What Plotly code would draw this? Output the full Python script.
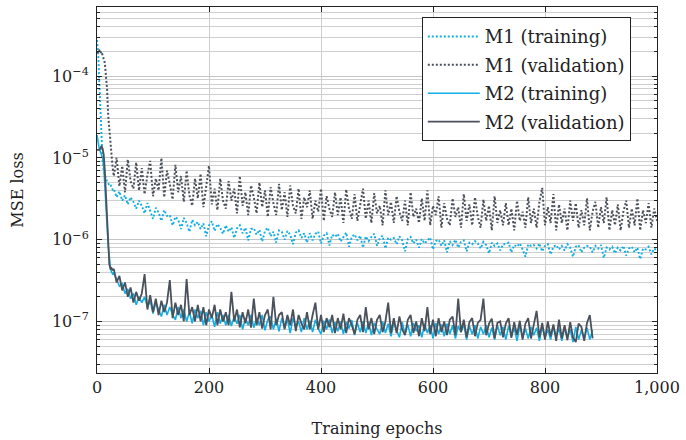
import plotly.graph_objects as go

SCALE = 1e-8  # all loss values below are written in units of 1e-8

# ---------------- M1 ----------------
m1_epochs = [0, 2, 4, 6, 8, 10, 12, 14, 16, 18, 20, 22, 24, 26, 28] + list(range(30, 1001, 5))

m1_train = [
    27500, 20000, 9000, 3500, 1300, 900, 700, 600, 560, 520, 490, 460, 470, 430, 410,
    420, 330, 390, 300, 350, 270, 330, 290, 240, 300,
    260, 210, 280, 230, 180, 245, 215, 170, 230, 195,
    200, 150, 190, 175, 135, 185, 160, 125, 175, 150,
    165, 135, 158, 110, 150, 168, 128, 155, 140, 118,
    150, 125, 142, 105, 138, 150, 120, 140, 98, 135,
    138, 115, 132, 95, 128, 140, 110, 125, 92, 130,
    125, 100, 128, 115, 88, 122, 130, 105, 120, 92,
    120, 98, 118, 126, 90, 112, 120, 85, 115, 108,
    118, 95, 110, 122, 82, 108, 116, 98, 112, 80,
    110, 96, 108, 118, 84, 104, 112, 78, 106, 100,
    105, 88, 110, 98, 72, 102, 108, 90, 100, 80,
    102, 90, 98, 106, 76, 96, 100, 84, 98, 70,
    96, 86, 100, 80, 94, 98, 72, 92, 88, 96,
    90, 78, 94, 86, 68, 92, 84, 90, 74, 88,
    88, 92, 70, 86, 82, 90, 76, 62, 88, 84,
    86, 78, 90, 72, 84, 88, 66, 82, 86, 76,
    84, 74, 88, 80, 62, 82, 86, 70, 80, 84,
    82, 70, 84, 78, 86, 60, 80, 76, 82, 68,
    80, 74, 84, 64, 78, 82, 70, 80, 58, 78,
    76, 82, 66, 78, 74,
]

m1_val = [
    19000, 20000, 21000, 19000, 20000, 18000, 16000, 14500, 10000, 7000, 3300, 2200, 1400, 1000, 750,
    600, 1000, 450, 800, 380, 950, 520, 420, 880, 400,
    750, 360, 620, 920, 340, 560, 400, 1000, 330, 700,
    480, 310, 820, 380, 600, 290, 700, 350, 260, 560,
    320, 640, 250, 480, 800, 270, 420, 230, 560, 300,
    240, 520, 300, 420, 210, 600, 260, 380, 200, 460,
    330, 210, 500, 250, 400, 190, 440, 280, 200, 480,
    230, 380, 190, 460, 260, 210, 420, 180, 330, 250,
    400, 180, 300, 220, 420, 170, 340, 240, 190, 380,
    200, 330, 160, 410, 240, 180, 360, 170, 280, 420,
    180, 300, 160, 370, 210, 260, 150, 400, 200, 290,
    160, 340, 220, 170, 300, 150, 380, 190, 240, 160,
    320, 170, 400, 150, 260, 200, 340, 140, 280, 180,
    150, 320, 190, 250, 140, 360, 170, 270, 150, 330,
    190, 140, 310, 170, 260, 130, 340, 160, 230, 150,
    280, 150, 240, 130, 300, 170, 220, 140, 330, 160,
    240, 140, 290, 430, 150, 250, 160, 360, 130, 270,
    160, 240, 130, 300, 170, 280, 140, 230, 150, 320,
    130, 220, 290, 140, 250, 160, 330, 130, 230, 150,
    270, 130, 220, 300, 140, 240, 150, 320, 130, 230,
    160, 280, 140, 240, 170,
]

# ---------------- M2 ----------------
m2_epochs = [0, 2, 4, 6, 8, 10, 12, 14, 16, 18, 20, 22, 24, 26, 28] + list(range(30, 886, 5))

m2_train = [
    1900, 1500, 1300, 1200, 1100, 1000, 800, 500, 300, 150, 85, 55, 45, 40, 38,
    40, 33, 27, 29, 22, 25, 19, 22, 16, 20,
    17, 20, 15, 18, 12.5, 17, 14, 11.5, 16, 12,
    15, 12, 10.5, 15, 11, 14, 10, 13, 9.5, 14,
    11, 13.5, 9, 13, 10, 12, 8.6, 13, 9.4, 12,
    9, 12, 8.8, 11.5, 9.4, 12, 8, 11, 9, 12,
    8.4, 11, 9, 12, 7.8, 10.5, 11.5, 8, 10.8, 7.6,
    11, 8.4, 10.6, 7.2, 11, 8.6, 10, 7.4, 11, 8,
    10.2, 7.4, 10.5, 8.2, 7, 10.2, 8, 10.6, 7.2, 9.8,
    7.6, 10, 7, 9.8, 8.2, 10.4, 6.8, 9.6, 7.4, 10,
    7.2, 9.8, 6.8, 9.6, 8, 7, 10, 7.2, 9.4, 6.6,
    9.6, 7.8, 6.4, 9.8, 7, 9.2, 6.6, 9.6, 7.6, 9,
    6.4, 9.4, 7.2, 9, 6.2, 9.6, 7, 9.2, 6.6, 9.4,
    7, 9, 6.2, 8.8, 7.4, 9.2, 6, 8.8, 7, 9,
    6.2, 8.6, 7, 9, 6.4, 8.4, 6, 9, 6.8, 8.6,
    6, 8.8, 6.6, 8.4, 5.8, 8.8, 6.4, 8.2, 6.2, 8.6,
    6.8, 8.4, 5.8, 8.6, 6.4, 8, 6, 8.6, 6.6, 8.2,
    5.8, 8.4, 6.4, 8, 5.6, 8.6, 6, 7.8, 6.2, 8.4,
    6, 7.8,
]

m2_val = [
    1250, 1250, 1250, 1300, 1400, 1300, 1100, 700, 350, 170, 80, 50, 44, 45, 42,
    44, 30, 36, 24, 30, 20, 26, 17, 23, 18,
    22, 38, 14, 21, 13, 19, 12, 18, 13, 17,
    32, 11, 17, 12, 16, 10, 33, 12, 15, 10,
    16, 10, 15, 9, 14, 11, 16, 9, 14, 10,
    13, 9, 23, 10, 14, 8.5, 13, 9.5, 14, 8.4,
    19, 9, 13, 8.2, 12, 14, 8, 20, 9, 12,
    13, 8, 12, 9, 14, 7.6, 12, 9.5, 8, 13,
    8, 12, 17, 8, 12, 7.4, 11, 8.5, 12, 7.2,
    11, 8, 12.5, 7.2, 11, 9, 7, 10.5, 12, 7.4,
    15, 8, 11, 7, 10.5, 12, 7.4, 10, 17, 7.2,
    11, 7.2, 11.5, 8, 6.8, 10.5, 12, 7.2, 10, 6.6,
    11, 7.6, 15, 7, 10.5, 6.6, 11, 7.4, 10, 6.8,
    10.5, 11.5, 6.8, 19, 7.4, 10.5, 6.4, 9.8, 11, 6.6,
    9.6, 10.5, 19, 6.8, 9.4, 10.8, 6.2, 9.6, 10, 6.4,
    9.4, 11, 6.3, 9.8, 6.8, 10.2, 6, 9.4, 11, 6.2,
    9.2, 13.5, 6.4, 9.6, 6, 10, 6.6, 9.2, 5.8, 10.5,
    6.2, 9, 5.9, 9.8, 6.4, 5.6, 9.4, 8.6, 5.8, 9.6,
    12, 6.2,
]

series_names = ["M1 (training)", "M1 (validation)", "M2 (training)", "M2 (validation)"]
x_tick_vals = [0, 200, 400, 600, 800, 1000]
y_tick_vals = [1e-7, 1e-6, 1e-5, 1e-4]
y_tick_text = ["10<sup>−7</sup>", "10<sup>−6</sup>", "10<sup>−5</sup>", "10<sup>−4</sup>"]

CYAN = "#12AEE6"
DARK = "#4A515B"
FONT = "DejaVu Serif"

fig = go.Figure()
fig.add_trace(go.Scatter(x=m1_epochs, y=[v * SCALE for v in m1_train], mode="lines",
                         name=series_names[0], legendgroup="a",
                         line=dict(color=CYAN, width=1.9, dash="2px,2px")))
fig.add_trace(go.Scatter(x=m1_epochs, y=[v * SCALE for v in m1_val], mode="lines",
                         name=series_names[1], legendgroup="b",
                         line=dict(color=DARK, width=2, dash="2px,2px")))
fig.add_trace(go.Scatter(x=m2_epochs, y=[v * SCALE for v in m2_train], mode="lines",
                         name=series_names[2], legendgroup="c",
                         line=dict(color=CYAN, width=1.6)))
fig.add_trace(go.Scatter(x=m2_epochs, y=[v * SCALE for v in m2_val], mode="lines",
                         name=series_names[3], legendgroup="d",
                         line=dict(color=DARK, width=1.8)))

fig.update_layout(
    width=686, height=440,
    margin=dict(l=97, r=25, t=6, b=58),
    paper_bgcolor="white", plot_bgcolor="white",
    font=dict(family=FONT, size=16, color="#222222"),
    showlegend=True,
    legend=dict(x=0.58, y=0.972, xanchor="left", yanchor="top",
                bgcolor="white", bordercolor="#222222", borderwidth=1,
                font=dict(family=FONT, size=18), itemwidth=52,
                traceorder="grouped", tracegroupgap=2),
)
fig.update_xaxes(
    range=[0, 1000], tickvals=x_tick_vals, separatethousands=True, automargin=True,
    showline=True, linecolor="#222222", linewidth=1, mirror="allticks",
    ticks="inside", ticklen=5, tickcolor="#222222",
    showgrid=True, gridcolor="#CDCDCD", gridwidth=1, zeroline=False,
    title=dict(text="Training epochs", font=dict(size=16), standoff=26),
)
fig.update_yaxes(
    type="log", range=[-7.63, -3.155], tickvals=y_tick_vals, ticktext=y_tick_text,
    automargin=True, ticklabelstandoff=4,
    showline=True, linecolor="#222222", linewidth=1, mirror="allticks",
    ticks="inside", ticklen=5, tickcolor="#222222",
    showgrid=True, gridcolor="#C4C4C4", gridwidth=1, zeroline=False,
    minor=dict(dtick="D1", ticks="inside", ticklen=3, tickcolor="#222222",
               showgrid=True, gridcolor="#CFCFCF", gridwidth=1),
    title=dict(text="MSE loss", font=dict(size=16), standoff=24),
)

fig.write_html(
    "out.html",
    config={"displayModeBar": False},
    post_script="document.body.style.margin='0';document.body.style.overflow='hidden';",
)
